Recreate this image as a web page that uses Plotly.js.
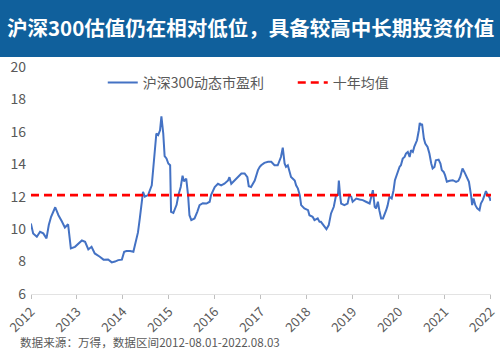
<!DOCTYPE html>
<html>
<head>
<meta charset="utf-8">
<script src="https://cdn.plot.ly/plotly-3.0.1.min.js"></script>
<style>
html,body{margin:0;padding:0;background:#fff;}
#chart{width:500px;height:354px;}
</style>
</head>
<body>
<div id="chart"></div>
<script>
// Time in decimal years (data span 2012-08-01 to 2022-08-03)
var peTime = [2012.58,2012.63,2012.71,2012.78,2012.85,2012.92,2012.97,2013.02,2013.11,2013.18,2013.25,2013.32,2013.39,2013.45,2013.54,2013.61,2013.69,2013.76,2013.83,2013.90,2013.97,2014.08,2014.16,2014.26,2014.34,2014.41,2014.48,2014.56,2014.61,2014.66,2014.74,2014.81,2014.85,2014.91,2014.95,2014.98,2015.02,2015.06,2015.13,2015.21,2015.24,2015.28,2015.31,2015.35,2015.39,2015.42,2015.46,2015.49,2015.53,2015.57,2015.61,2015.63,2015.68,2015.75,2015.79,2015.84,2015.88,2015.91,2015.96,2016.00,2016.03,2016.07,2016.14,2016.20,2016.25,2016.32,2016.40,2016.47,2016.50,2016.58,2016.65,2016.72,2016.79,2016.87,2016.90,2016.94,2017.01,2017.08,2017.16,2017.23,2017.29,2017.32,2017.37,2017.45,2017.52,2017.56,2017.59,2017.66,2017.74,2017.81,2017.88,2017.95,2018.02,2018.06,2018.10,2018.13,2018.17,2018.21,2018.24,2018.32,2018.35,2018.39,2018.43,2018.46,2018.53,2018.61,2018.64,2018.71,2018.75,2018.82,2018.86,2018.89,2018.95,2019.01,2019.06,2019.11,2019.17,2019.22,2019.26,2019.28,2019.31,2019.33,2019.40,2019.47,2019.51,2019.55,2019.58,2019.66,2019.73,2019.80,2019.87,2019.95,2020.02,2020.06,2020.09,2020.13,2020.16,2020.20,2020.24,2020.27,2020.31,2020.34,2020.38,2020.43,2020.47,2020.50,2020.55,2020.60,2020.63,2020.67,2020.71,2020.74,2020.78,2020.82,2020.85,2020.89,2020.92,2020.98,2021.02,2021.04,2021.07,2021.09,2021.13,2021.16,2021.21,2021.25,2021.29,2021.32,2021.36,2021.39,2021.45,2021.49,2021.52,2021.56,2021.59,2021.63,2021.69,2021.76,2021.83,2021.88,2021.92,2021.97,2022.01,2022.07,2022.11,2022.16,2022.18,2022.21,2022.25,2022.29,2022.34,2022.37,2022.41,2022.45,2022.48,2022.52,2022.56,2022.58];
// 沪深300动态市盈率
var peValue = [10.35,9.74,9.53,9.84,9.74,9.43,10.25,10.76,11.35,10.86,10.5,10.1,10.3,8.81,8.91,9.12,9.3,9.22,8.75,8.91,8.5,8.3,8.12,8.13,7.95,8.0,8.09,8.12,8.6,8.65,8.65,8.6,9.1,9.8,10.66,11.5,12.3,12.0,12.1,12.7,13.6,14.8,15.9,15.8,16.1,16.95,15.9,14.5,14.36,14.05,13.94,11.07,11.0,11.5,12.1,12.6,13.3,12.95,13.12,12.1,10.86,10.56,10.66,11.07,11.48,11.6,11.58,11.69,12.1,12.6,12.8,12.7,12.8,13.0,13.2,12.8,13.0,13.2,13.43,13.43,13.2,12.65,12.6,13.0,13.64,13.84,13.94,14.09,14.15,14.15,13.94,13.94,14.45,15.03,14.05,13.84,13.94,13.53,13.22,13.0,12.7,12.5,12.1,11.48,11.28,11.17,10.86,10.76,10.56,10.66,10.45,10.45,10.25,10.0,10.25,10.97,11.38,12.1,12.1,13.0,12.0,11.58,11.48,11.58,12.1,12.0,11.69,11.89,11.83,11.79,11.69,11.58,12.4,11.38,11.28,11.69,11.17,10.66,10.66,10.86,11.17,11.45,12.0,11.89,12.4,13.02,13.43,13.84,13.94,14.35,14.45,14.66,14.76,14.45,14.87,14.76,15.07,15.48,16.1,16.55,16.4,16.5,15.59,15.28,15.07,14.66,14.05,13.74,13.84,14.25,14.29,14.05,13.64,13.53,13.33,12.92,12.98,13.02,12.92,12.98,13.22,13.74,13.53,13.12,12.92,12.0,11.48,11.89,11.48,11.28,11.17,11.58,11.79,12.1,12.34,12.1,11.95,11.74];
var meanTime = [2012.583, 2022.59];
var meanValue = [12.1, 12.1];
var tickVals = [2012.583,2013.583,2014.583,2015.583,2016.583,2017.583,2018.583,2019.583,2020.583,2021.583,2022.583];
var tickText = ["2012","2013","2014","2015","2016","2017","2018","2019","2020","2021","2022"];
var seriesNames = ["沪深300动态市盈利", "十年均值"];
var titleText = "沪深300估值仍在相对低位，具备较高中长期投资价值";
var sourceText = "数据来源：万得，数据区间2012-08.01-2022.08.03";

var FONT = "'Noto Sans CJK SC', 'Noto Sans', sans-serif";
var GREY = "#595959";

var traces = [
  {x: peTime, y: peValue, type: "scatter", mode: "lines", name: seriesNames[0],
   line: {color: "#4472C4", width: 2}, hoverinfo: "skip"},
  {x: meanTime, y: meanValue, type: "scatter", mode: "lines", name: seriesNames[1],
   line: {color: "#FF0000", width: 2.7, dash: "8px,5px"}, hoverinfo: "skip"}
];

var layout = {
  width: 500, height: 354,
  margin: {l: 31, r: 9, t: 67, b: 60},
  paper_bgcolor: "#ffffff", plot_bgcolor: "#ffffff",
  font: {family: FONT, color: GREY},
  showlegend: true,
  legend: {orientation: "h", x: 0.156, xanchor: "left", y: 0.93, yanchor: "middle",
           font: {family: FONT, size: 14, color: GREY}, bgcolor: "rgba(0,0,0,0)",
           entrywidth: 145, entrywidthmode: "pixels"},
  xaxis: {type: "linear", range: [2012.583, 2022.59], tickmode: "array",
          tickvals: tickVals, ticktext: tickText, tickangle: -45,
          tickfont: {family: FONT, size: 13, color: GREY},
          showgrid: false, zeroline: false, showline: true, linecolor: "#e3e3e3", linewidth: 1,
          ticks: "outside", ticklen: 4, tickcolor: "#bfbfbf", fixedrange: true},
  yaxis: {range: [6, 20], dtick: 2, tick0: 6, showgrid: false, zeroline: false, showline: false,
          tickfont: {family: FONT, size: 14, color: GREY}, ticks: "", ticklabelstandoff: 4, fixedrange: true},
  shapes: [
    {type: "rect", xref: "paper", yref: "paper", x0: -0.07, x1: 1.02,
     y0: (354 - 67 - 50) / (354 - 67 - 60) + 0, y1: 2, fillcolor: "#10609c", line: {width: 0}, layer: "below"}
  ],
  annotations: [
    {text: "<b>" + titleText + "</b>", xref: "paper", yref: "paper", x: (250 - 31) / 460, y: (294 - 27) / 227,
     xanchor: "center", yanchor: "middle", showarrow: false,
     font: {family: FONT, size: 20.5, color: "#ffffff"}},
    {text: sourceText, xref: "paper", yref: "paper", x: (18 - 31) / 460, y: (294 - 342) / 227,
     xanchor: "left", yanchor: "middle", showarrow: false,
     font: {family: FONT, size: 11.6, color: GREY}}
  ]
};

Plotly.newPlot("chart", traces, layout, {displayModeBar: false, staticPlot: true});
</script>
</body>
</html>
